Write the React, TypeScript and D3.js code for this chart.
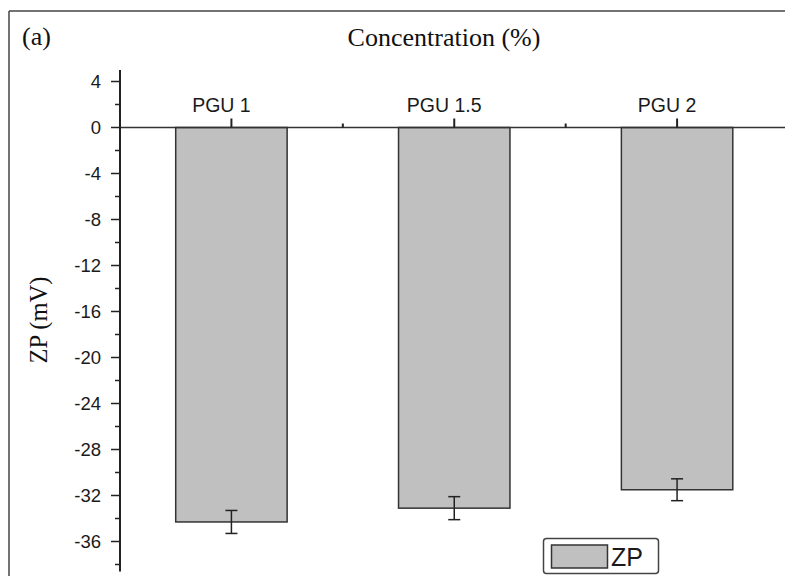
import React from 'react'
import * as d3 from 'd3'

const categories = ['PGU 1', 'PGU 1.5', 'PGU 2']
const zpValues = [-34.3, -33.1, -31.5]
const zpErrors = [1.0, 1.0, 0.95]
const majorTicks = [4, 0, -4, -8, -12, -16, -20, -24, -28, -32, -36]
const minorTicks = [2, -2, -6, -10, -14, -18, -22, -26, -30, -34, -38]

const W = 785
const H = 576
const serif = "'Liberation Serif', 'Times New Roman', serif"
const sans = "Arial, 'Liberation Sans', sans-serif"

const App = () => {
  const y = d3.scaleLinear().domain([5, -38.6]).range([70, 571.4])
  const x = d3
    .scaleBand<string>()
    .domain(categories)
    .range([120, 788.5])
    .paddingInner(0.5)
    .paddingOuter(0.25)

  const bw = x.bandwidth()
  const step = x.step()
  const y0 = y(0)
  const centers = categories.map(c => (x(c) as number) + bw / 2)
  // minor ticks sit halfway between categories
  const minorX = centers.slice(0, -1).map(c => c + step / 2)

  return (
    <svg
      width={W}
      height={H}
      style={{ position: 'absolute', left: 0, top: 0, background: '#fff' }}
    >
      {/* outer frame */}
      <line x1={9} y1={11} x2={W} y2={11} stroke="#444" strokeWidth={1.5} />
      <line x1={9} y1={11} x2={9} y2={H} stroke="#444" strokeWidth={1.5} />

      <text x={22} y={45} fontFamily={serif} fontSize={26} fill="#111">
        (a)
      </text>
      <text x={444} y={46} textAnchor="middle" fontFamily={serif} fontSize={26} fill="#111">
        Concentration (%)
      </text>
      <text
        transform={`translate(47,320) rotate(-90)`}
        textAnchor="middle"
        fontFamily={serif}
        fontSize={24.5}
        fill="#111"
      >
        ZP (mV)
      </text>

      {/* bars */}
      {categories.map((c, i) => (
        <rect
          key={c}
          x={x(c)}
          y={y0}
          width={bw}
          height={y(zpValues[i]) - y0}
          fill="#c0c0c0"
          stroke="#333"
          strokeWidth={1.5}
        />
      ))}

      {/* error bars */}
      {categories.map((c, i) => {
        const cx = centers[i]
        const top = y(zpValues[i] + zpErrors[i])
        const bot = y(zpValues[i] - zpErrors[i])
        return (
          <g key={'err' + c} stroke="#222" strokeWidth={1.5}>
            <line x1={cx} x2={cx} y1={top} y2={bot} />
            <line x1={cx - 6} x2={cx + 6} y1={top} y2={top} />
            <line x1={cx - 6} x2={cx + 6} y1={bot} y2={bot} />
          </g>
        )
      })}

      {/* zero line (x axis) */}
      <line x1={120} x2={W} y1={y0} y2={y0} stroke="#333" strokeWidth={1.5} />
      {centers.map((cx, i) => (
        <g key={'xt' + i}>
          <line x1={cx} x2={cx} y1={y0} y2={y0 - 9} stroke="#222" strokeWidth={2} />
          <text
            x={cx - 10}
            y={111.5}
            textAnchor="middle"
            fontFamily={sans}
            fontSize={19.5}
            fill="#1a1a1a"
          >
            {categories[i]}
          </text>
        </g>
      ))}
      {minorX.map((mx, i) => (
        <line key={'xm' + i} x1={mx} x2={mx} y1={y0} y2={y0 - 4} stroke="#222" strokeWidth={2} />
      ))}

      {/* y axis */}
      <line x1={120} x2={120} y1={y(5)} y2={y(-38.6)} stroke="#222" strokeWidth={2} />
      {majorTicks.map(t => (
        <g key={'yt' + t}>
          <line x1={111} x2={120} y1={y(t)} y2={y(t)} stroke="#222" strokeWidth={1.5} />
          <text
            x={101}
            y={y(t)}
            dy="0.35em"
            textAnchor="end"
            fontFamily={sans}
            fontSize={18.5}
            fill="#1a1a1a"
          >
            {t}
          </text>
        </g>
      ))}
      {minorTicks.map(t => (
        <line key={'ym' + t} x1={115} x2={120} y1={y(t)} y2={y(t)} stroke="#222" strokeWidth={1.5} />
      ))}

      {/* legend */}
      <rect x={543.5} y={538.5} width={115} height={35} rx={3} fill="#fff" stroke="#444" strokeWidth={1.5} />
      <rect x={551.5} y={545} width={56} height={23} fill="#c0c0c0" stroke="#333" strokeWidth={1.5} />
      <text x={611} y={566} fontFamily={sans} fontSize={25} fill="#1a1a1a">
        ZP
      </text>
    </svg>
  )
}

export default App
